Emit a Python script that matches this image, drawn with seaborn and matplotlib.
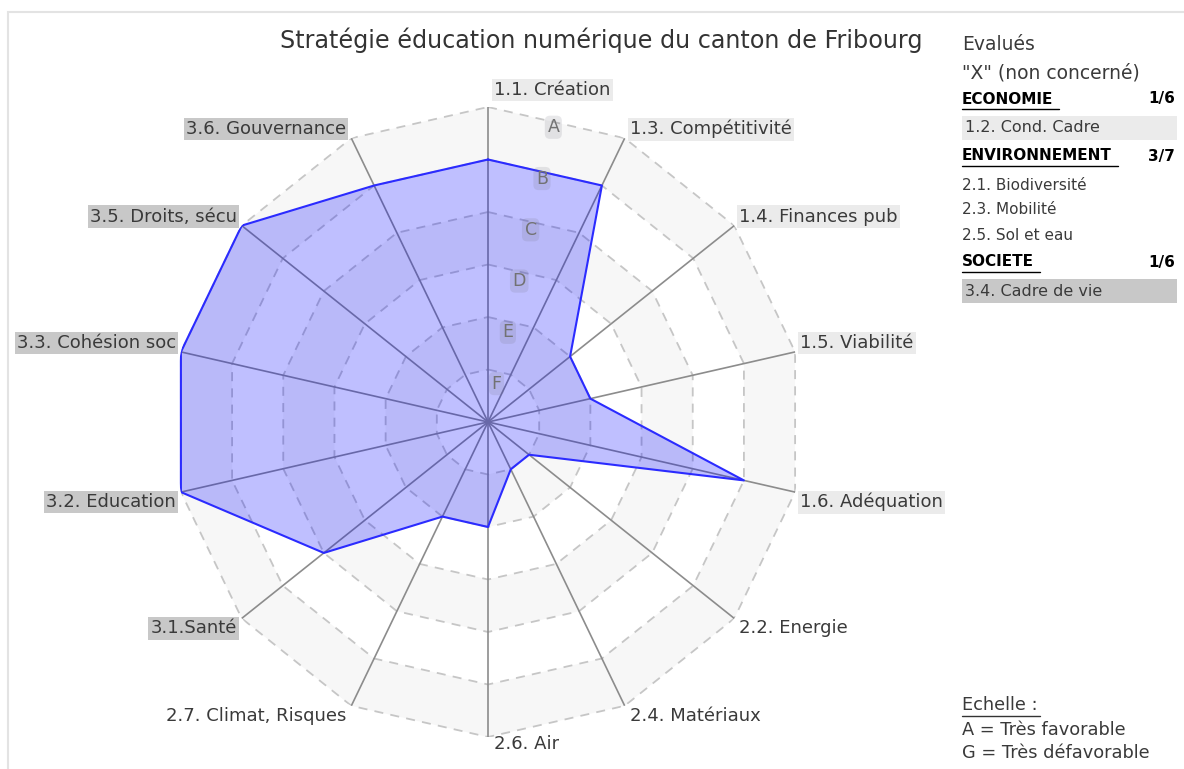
import numpy as np
import matplotlib
matplotlib.use("Agg")
import matplotlib.pyplot as plt
import seaborn as sns
from matplotlib.patches import Rectangle
from matplotlib.lines import Line2D

# ---------------- data ----------------
categories = ["1.1. Création", "1.3. Compétitivité", "1.4. Finances pub", "1.5. Viabilité",
              "1.6. Adéquation", "2.2. Energie", "2.4. Matériaux", "2.6. Air",
              "2.7. Climat, Risques", "3.1.Santé", "3.2. Education", "3.3. Cohésion soc",
              "3.5. Droits, sécu", "3.6. Gouvernance"]
values = [5, 5, 2, 2, 5, 1, 1, 2, 2, 4, 6, 6, 6, 5]
levels = [1, 2, 3, 4, 5, 6]
scale_letters = ["F", "E", "D", "C", "B", "A"]
title = "Stratégie éducation numérique du canton de Fribourg"
legend_head = ["Evalués", '"X" (non concerné)']
groups = ["ECONOMIE", "ENVIRONNEMENT", "SOCIETE"]
group_counts = ["1/6", "3/7", "1/6"]
group_items = [["1.2. Cond. Cadre"],
               ["2.1. Biodiversité", "2.3. Mobilité", "2.5. Sol et eau"],
               ["3.4. Cadre de vie"]]
scale_text = ["Echelle :", "A = Très favorable", "G = Très défavorable"]

# ---------------- style ----------------
sns.set_theme(style="white")
plt.rcParams["font.family"] = ["DejaVu Sans"]
W, H = 1184, 769
group_bg = {"1": "#ebebeb", "2": None, "3": "#c8c8c8"}
txt_col = "#3a3a3a"


def fx(x):
    return x / W


def fy(y):
    return 1 - y / H


fig = plt.figure(figsize=(W / 100, H / 100), dpi=100)
fig.patch.set_facecolor("white")

# outer light frame
fig.add_artist(Rectangle((fx(8), fy(780)), 1.2, fy(12) - fy(780), transform=fig.transFigure,
                         fill=False, edgecolor="#e3e3e3", lw=1.5))

cx, cy, R = 488, 422, 315
ax = fig.add_axes([fx(cx - R), fy(cy + R), 2 * R / W, 2 * R / H], projection="polar")
ax.set_theta_zero_location("N")
ax.set_theta_direction(-1)
ax.set_ylim(0, 6)
ax.axis("off")

n = len(categories)
theta = np.arange(n) * 2 * np.pi / n
theta_c = np.append(theta, 2 * np.pi)

# alternating bands (outer to inner)
for lvl in sorted(levels, reverse=True):
    col = "#f7f7f7" if lvl % 2 == 0 else "white"
    ax.fill(theta_c, [lvl] * (n + 1), color=col, lw=0, zorder=1)
# dashed rings
for lvl in levels:
    ax.plot(theta_c, [lvl] * (n + 1), color="#c6c6c6", lw=1.3, ls=(0, (5, 4)), zorder=2)
# spokes
for t in theta:
    ax.plot([t, t], [0, max(levels)], color="#8c8c8c", lw=1.2, zorder=3)

# data polygon
vals_c = values + [values[0]]
ax.fill(theta_c, vals_c, color=(0.0, 0.0, 1.0, 0.25), lw=0, zorder=4)
sns.lineplot(x=theta_c, y=vals_c, sort=False, estimator=None, color="#2b2bff", lw=1.5,
             ax=ax, zorder=5)
ax.axis("off")

# scale letters
for lvl, let in zip(levels, scale_letters):
    ax.text(np.deg2rad(12.5), lvl - 0.25, let, ha="center", va="center", fontsize=12.5,
            color="#727272", zorder=6,
            bbox=dict(boxstyle="round,pad=0.15,rounding_size=0.3", fc=(0.45, 0.45, 0.5, 0.16),
                      ec="none"))

# category labels
for t, lab in zip(theta, categories):
    s, c = np.sin(t), np.cos(t)
    if abs(s) < 1e-6:
        ha = "left"
        dx = 6
        dy = 17 if c > 0 else -7
    else:
        ha = "left" if s > 0 else "right"
        dx = 5 if s > 0 else -5
        dy = 9 if c > 0 else -10
    bg = group_bg[lab[0]]
    bbox = dict(boxstyle="square,pad=0.12", fc=bg, ec="none") if bg else None
    ax.annotate(lab, xy=(t, max(levels)), xytext=(dx, dy), textcoords="offset pixels",
                ha=ha, va="center", fontsize=13, color=txt_col, bbox=bbox, zorder=7,
                annotation_clip=False)

# title
fig.text(fx(601), fy(40), title, ha="center", va="center", fontsize=17.2, color="#333333")

# right panel
lx, rx = 962, 1175
fig.text(fx(lx), fy(44), legend_head[0], ha="left", va="center", fontsize=13.5, color=txt_col)
fig.text(fx(lx), fy(73), legend_head[1], ha="left", va="center", fontsize=13.5, color=txt_col)

y = 99
for g, cnt, items in zip(groups, group_counts, group_items):
    tg = fig.text(fx(lx), fy(y), g, ha="left", va="center", fontsize=11, weight="bold",
                  color="black")
    fig.text(fx(rx), fy(y), cnt, ha="right", va="center", fontsize=11, weight="bold",
             color="black")
    fig.canvas.draw()
    bb = tg.get_window_extent()
    fig.add_artist(Line2D([fx(lx), fx(bb.x1 + 6)], [fy(y + 10), fy(y + 10)],
                          transform=fig.transFigure, color="black", lw=1))
    y += 29
    for it in items:
        bg = group_bg[it[0]]
        if bg:
            fig.add_artist(Rectangle((fx(lx), fy(y + 12)), fx(1177) - fx(lx), fy(y - 12) - fy(y + 12),
                                     transform=fig.transFigure, fc=bg, ec="none"))
            fig.text(fx(lx + 3), fy(y), it, ha="left", va="center", fontsize=11.5, color=txt_col)
            y += 28
        else:
            fig.text(fx(lx), fy(y), it, ha="left", va="center", fontsize=11, color=txt_col)
            y += 25
    if items and not group_bg[items[0][0]]:
        y += 2

# scale legend
t0 = fig.text(fx(lx), fy(705), scale_text[0], ha="left", va="center", fontsize=12.8, color=txt_col)
fig.canvas.draw()
bb = t0.get_window_extent()
fig.add_artist(Line2D([fx(lx), fx(bb.x1 + 2)], [fy(716), fy(716)], transform=fig.transFigure,
                      color="#333333", lw=1))
fig.text(fx(lx), fy(730), scale_text[1], ha="left", va="center", fontsize=12.8, color=txt_col)
fig.text(fx(lx), fy(753), scale_text[2], ha="left", va="center", fontsize=12.8, color=txt_col)

fig.savefig("out.png", dpi=100)
